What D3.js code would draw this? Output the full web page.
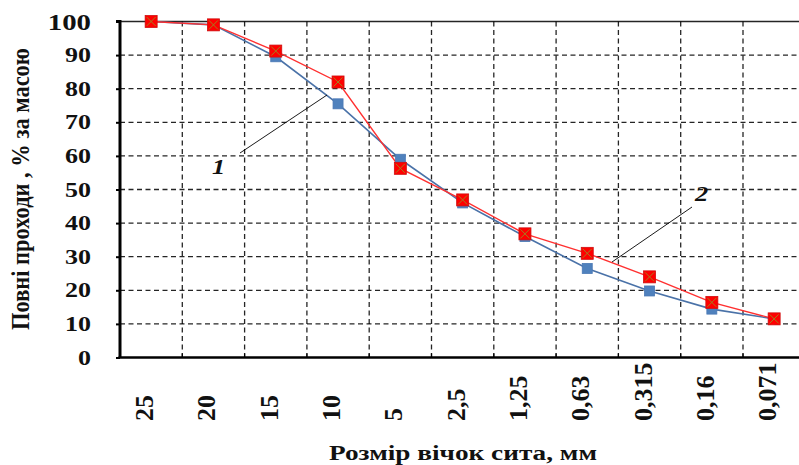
<!DOCTYPE html>
<html><head><meta charset="utf-8">
<script src="https://cdn.jsdelivr.net/npm/d3@7"></script>
<style>body{margin:0;background:#fff}svg{display:block}</style>
</head><body><svg id="c" width="799" height="465"></svg>
<script>
const categories = ["25","20","15","10","5","2,5","1,25","0,63","0,315","0,16","0,071"];
const series1 = [100, 99, 89.5, 75.5, 59, 46, 36, 26.5, 19.8, 14.4, 11.5];
const series2 = [100, 99, 91.2, 82, 56.3, 46.9, 36.8, 31, 24, 16.4, 11.5];
const yTicks = [0,10,20,30,40,50,60,70,80,90,100];

const FONT = "'Liberation Serif','Times New Roman','DejaVu Serif',serif";
const svg = d3.select("#c");
const L = 120, T = 21.5, B = 357.5, bw = 62.3;
const x = d3.scaleBand().domain(categories).range([L, L + bw*categories.length]).paddingInner(0).paddingOuter(0);
const y = d3.scaleLinear().domain([0,100]).range([B, T]);
const W = 799;
const txt = sel => sel.style("font-family", FONT).style("font-weight", "bold").attr("fill", "#111");

// horizontal gridlines
svg.append("g").selectAll("line").data(yTicks.filter(d=>d>0)).join("line")
  .attr("x1", L).attr("x2", W).attr("y1", d=>y(d)).attr("y2", d=>y(d))
  .attr("stroke", "#000").attr("stroke-width", 1.3)
  .attr("stroke-dasharray", d=>d===100?null:"5,3.5").attr("opacity", 0.85);
// vertical gridlines at band boundaries
svg.append("g").selectAll("line").data(categories.slice(1)).join("line")
  .attr("x1", d=>x(d)).attr("x2", d=>x(d)).attr("y1", T).attr("y2", B)
  .attr("stroke", "#000").attr("stroke-width", 1.3).attr("stroke-dasharray", "5,3.5").attr("opacity",0.85);

// axes
const yAxis = d3.axisLeft(y).tickValues(yTicks).tickSize(4).tickFormat("");
const ga = svg.append("g").attr("transform", `translate(${L},0)`).call(yAxis);
ga.select(".domain").attr("stroke-width", 3).attr("d", `M-4,${T}H0V${B}`);
ga.selectAll(".tick line").attr("stroke-width", 2);
svg.append("g").selectAll("text").data(yTicks).join("text")
  .attr("transform", d=>`translate(91,${y(d)}) scale(${d===100?1.2:1.3},1)`)
  .attr("dy", "0.35em").attr("text-anchor","end")
  .attr("font-size", d=>d===100?24:20).call(txt).text(d=>d);

svg.append("line").attr("x1", L-1.5).attr("x2", W).attr("y1", B).attr("y2", B).attr("stroke", "#000").attr("stroke-width", 2.5);
svg.append("g").selectAll("line").data(categories.slice(1)).join("line")
  .attr("x1", d=>x(d)).attr("x2", d=>x(d)).attr("y1", B).attr("y2", B-4).attr("stroke", "#000").attr("stroke-width", 1.2);

// x tick labels
svg.append("g").selectAll("text").data(categories).join("text")
  .attr("transform", d=>`translate(${x(d)+x.bandwidth()/2+2},421) scale(0.98,1) rotate(-90)`)
  .attr("font-size", 26).attr("text-anchor","start").call(txt).text(d=>d);

// axis titles
svg.append("text").attr("transform", "translate(29,189) scale(1.3,1) rotate(-90)").attr("text-anchor","middle")
  .attr("font-size", 20).attr("textLength", 282).attr("lengthAdjust","spacingAndGlyphs")
  .call(txt).text("Повні проходи , % за масою");
svg.append("text").attr("x", 463).attr("y", 460).attr("text-anchor","middle")
  .attr("font-size", 20).attr("textLength", 268).attr("lengthAdjust","spacingAndGlyphs")
  .call(txt).text("Розмір вічок сита, мм");

const cx = (d,i)=>x(categories[i])+x.bandwidth()/2;
const line = d3.line().x((d,i)=>cx(d,i)).y(d=>y(d));

// series 1 (blue)
svg.append("path").datum(series1).attr("d", line).attr("fill","none").attr("stroke","#4a72a8").attr("stroke-width",1.6);
// series 2 (red)
svg.append("path").datum(series2).attr("d", line).attr("fill","none").attr("stroke","#ff3030").attr("stroke-width",1.4);

svg.append("g").selectAll("rect").data(series1).join("rect")
  .attr("x",(d,i)=>cx(d,i)-5).attr("y",d=>y(d)-5).attr("width",10).attr("height",10)
  .attr("fill","#4f81bd").attr("stroke","#4a78b5").attr("stroke-width",0.8);

const g2 = svg.append("g").selectAll("g").data(series2).join("g")
  .attr("transform",(d,i)=>`translate(${cx(d,i)},${y(d)})`);
g2.append("rect").attr("x",-6).attr("y",-6).attr("width",12).attr("height",12)
  .attr("fill","#ff0000").attr("stroke","#d01010").attr("stroke-width",0.8);
g2.append("path").attr("d","M-4.5,-4.5L4.5,4.5M-4.5,4.5L4.5,-4.5").attr("stroke","#a08020").attr("stroke-width",1);

// annotations
svg.append("line").attr("x1",240).attr("y1",153).attr("x2",327).attr("y2",95).attr("stroke","#000").attr("stroke-width",0.9);
svg.append("text").attr("transform","translate(212,174) scale(1.2,1)").attr("font-size",22).attr("font-style","italic").call(txt).text("1");
svg.append("line").attr("x1",612).attr("y1",262).attr("x2",692).attr("y2",207).attr("stroke","#000").attr("stroke-width",0.9);
svg.append("text").attr("transform","translate(695,201) scale(1.2,1)").attr("font-size",22).attr("font-style","italic").call(txt).text("2");
</script></body></html>
